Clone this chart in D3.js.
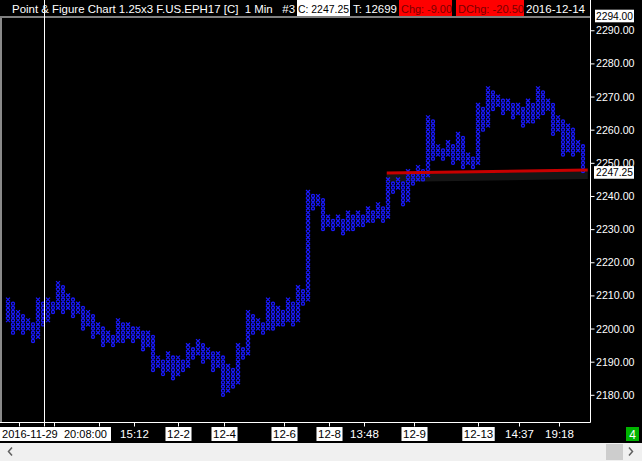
<!DOCTYPE html>
<html><head><meta charset="utf-8">
<script src="https://cdn.jsdelivr.net/npm/d3@7"></script>
<style>
body{margin:0;background:#000;overflow:hidden}
text{font-family:"Liberation Sans",Arial,sans-serif;white-space:pre}
</style>
</head><body>
<svg id="c" width="642" height="461"></svg>
<script>
// ---- data ----
const boxSize = 1.25;
const firstColType = "X";
const colHigh = [2208.75,2207.5,2205,2203.75,2202.5,2201.25,2208.75,2207.5,2208.75,2207.5,
 2213.75,2212.5,2210,2208.75,2207.5,2206.25,2205,2203.75,2201.25,2200,
 2198.75,2197.5,2202.5,2201.25,2201.25,2200,2200,2198.75,2198.75,2197.5,
 2191.25,2190,2192.5,2191.25,2191.25,2190,2195,2193.75,2196.25,2195,
 2193.75,2192.5,2192.5,2191.25,2188.75,2187.5,2195,2193.75,2205,2203.75,
 2202.5,2201.25,2208.75,2207.5,2206.25,2205,2208.75,2207.5,2212.5,2211.25,
 2241.25,2240,2240,2238.75,2233.75,2232.5,2233.75,2232.5,2235,2233.75,
 2235,2233.75,2236.25,2235,2237.5,2236.25,2245,2243.75,2245,2243.75,
 2247.5,2246.25,2248.75,2247.5,2263.75,2262.5,2255,2253.75,2256.25,2255,
 2258.75,2257.5,2252.5,2251.25,2267.5,2266.25,2272.5,2271.25,2270,2268.75,
 2268.75,2267.5,2267.5,2266.25,2268.75,2267.5,2272.5,2271.25,2268.75,2267.5,
 2263.75,2262.5,2261.25,2260,2256.25,2255];
const colLow = [2202.5,2198.75,2200,2198.75,2200,2196.25,2197.5,2201.25,2202.5,2205,
 2206.25,2205,2206.25,2203.75,2205,2200,2201.25,2197.5,2198.75,2195,
 2196.25,2195,2196.25,2196.25,2197.5,2196.25,2197.5,2193.75,2195,2187.5,
 2188.75,2186.25,2187.5,2185,2186.25,2187.5,2188.75,2191.25,2192.5,2190,
 2191.25,2187.5,2188.75,2180,2181.25,2182.5,2183.75,2191.25,2192.5,2198.75,
 2200,2198.75,2200,2200,2201.25,2201.25,2202.5,2201.25,2202.5,2207.5,
 2208.75,2236.25,2237.5,2230,2231.25,2230,2231.25,2228.75,2230,2230,
 2231.25,2231.25,2232.5,2232.5,2233.75,2232.5,2233.75,2241.25,2242.5,2237.5,
 2238.75,2243.75,2245,2245,2246.25,2251.25,2252.5,2251.25,2252.5,2250,
 2251.25,2248.75,2250,2248.75,2250,2260,2261.25,2266.25,2267.5,2265,
 2266.25,2263.75,2265,2261.25,2262.5,2262.5,2263.75,2265,2266.25,2258.75,
 2260,2252.5,2253.75,2252.5,2253.75,2247.5];
const yTicks = [2180,2190,2200,2210,2220,2230,2240,2250,2260,2270,2280,2290];
const topPrice = 2294.00;
const lastPrice = 2247.25;
const xTickCols = [2,9,18,25,34,43,55,64,71,81,94,102,110];
const xTickLabels = ["","","","15:12","12-2","12-4","12-6","12-8","13:48","12-9","12-13","14:37","19:18"];
const xTickBoxed = [false,false,false,false,true,true,true,true,false,true,true,false,false];
const cursorCol = 7.5;
const cursorLabel = "2016-11-29  20:08:00";
const trendCols = [76.15, 116.35];
const trendPrices = [2246.9, 2247.8];
const header = [
  {t:"Point & Figure Chart 1.25x3 F.US.EPH17 [C]  1 Min   #3", x0:0, x1:297, tx:12, tw:283, bg:"#000", fg:"#fff"},
  {t:"C: 2247.25", x0:297, x1:350, tx:298, tw:51, bg:"#fff", fg:"#000"},
  {t:"T: 12699", x0:350, x1:399, tx:353, tw:44, bg:"#000", fg:"#fff"},
  {t:"Chg: -9.00", x0:399, x1:452, tx:401, tw:51, bg:"#ff0000", fg:"#7a0000"},
  {t:"", x0:452, x1:456, tx:0, tw:0, bg:"#000", fg:"#fff"},
  {t:"DChg: -20.50", x0:456, x1:524, tx:458, tw:66, bg:"#ff0000", fg:"#7a0000"},
  {t:"2016-12-14", x0:524, x1:590, tx:526, tw:59, bg:"#000", fg:"#fff"}
];

// ---- chart ----
const svg = d3.select("#c");
svg.append("rect").attr("width",642).attr("height",461).attr("fill","#000");

const plotTop = 17, plotBottom = 422, axisX = 590.5;
const x = d3.scaleLinear().domain([0,116]).range([6,586]);
const y = d3.scaleLinear().domain([topPrice, 2171.8]).range([plotTop, plotBottom]);
const boxH = y(topPrice - boxSize) - y(topPrice);
const blue = "#1a1aff";

// left border
svg.append("rect").attr("x",0).attr("y",plotTop+1).attr("width",2).attr("height",plotBottom-plotTop-1).attr("fill","#8a8a8a");

// trend line shadow (behind the boxes)
svg.append("line").attr("x1",x(trendCols[0])).attr("x2",x(trendCols[1]))
  .attr("y1",y(trendPrices[0])+5).attr("y2",y(trendPrices[1])+5)
  .attr("stroke","#161616").attr("stroke-width",8);

// boxes
const boxes = [];
colHigh.forEach((hi,i)=>{
  const lo = colLow[i];
  const n = Math.round((hi-lo)/boxSize)+1;
  const type = (i%2===0) ? firstColType : (firstColType==="X"?"O":"X");
  for(let k=0;k<n;k++) boxes.push({i, p: lo + k*boxSize, type});
});
const g = svg.append("g");
boxes.forEach(b=>{
  const x0 = x(b.i), cy = y(b.p);
  if(b.type==="X"){
    g.append("path")
      .attr("d",`M${x0},${cy-boxH/2+0.2}L${x0+4},${cy+boxH/2-0.2}M${x0+4},${cy-boxH/2+0.2}L${x0},${cy+boxH/2-0.2}`)
      .attr("stroke",blue).attr("stroke-width",1.25).attr("fill","none");
  } else {
    g.append("ellipse").attr("cx",x0+2).attr("cy",cy).attr("rx",1.5).attr("ry",boxH/2-0.55)
      .attr("stroke",blue).attr("stroke-width",1.3).attr("fill","none");
  }
});

// trend line
svg.append("line").attr("x1",x(trendCols[0])).attr("x2",x(trendCols[1]))
  .attr("y1",y(trendPrices[0])).attr("y2",y(trendPrices[1]))
  .attr("stroke","#c80000").attr("stroke-width",3);

// header
const defs = svg.append("defs");
header.forEach((h,k)=>{
  svg.append("rect").attr("x",h.x0).attr("y",0).attr("width",h.x1-h.x0).attr("height",16).attr("fill",h.bg);
  if(!h.t) return;
  defs.append("clipPath").attr("id","hc"+k).append("rect").attr("x",h.x0).attr("y",0).attr("width",h.x1-h.x0).attr("height",16);
  svg.append("text").attr("clip-path",`url(#hc${k})`).attr("x",h.tx).attr("y",12.5)
    .attr("font-size","11.5px").attr("fill",h.fg)
    .attr("textLength",h.tw).attr("lengthAdjust","spacingAndGlyphs").text(h.t);
});
svg.append("line").attr("x1",0).attr("x2",axisX).attr("y1",17).attr("y2",17).attr("stroke","#fff");

// y axis
svg.append("line").attr("x1",axisX).attr("x2",axisX).attr("y1",0).attr("y2",plotBottom+0.5).attr("stroke","#fff");
const yAxisG = svg.append("g").attr("transform",`translate(${axisX},0)`)
  .call(d3.axisRight(y).tickValues(yTicks).tickSize(4).tickPadding(1.5).tickFormat(d3.format(".2f")));
yAxisG.select(".domain").remove();
yAxisG.selectAll(".tick line").attr("stroke","#fff");
yAxisG.selectAll(".tick text").attr("fill","#fff").attr("font-size","11px")
  .attr("font-family","Liberation Sans, Arial, sans-serif")
  .attr("textLength",38.5).attr("lengthAdjust","spacingAndGlyphs");

function priceBox(price, yy, x0){
  svg.append("rect").attr("x",x0).attr("y",yy-6.3).attr("width",634-x0).attr("height",12.6).attr("fill","#fff");
  svg.append("text").attr("x",596).attr("y",yy).attr("dy","0.35em").attr("font-size","10.5px")
    .attr("fill","#000").attr("textLength",37).attr("lengthAdjust","spacingAndGlyphs")
    .text(d3.format(".2f")(price));
}
priceBox(topPrice, 16, 595);
priceBox(lastPrice, y(lastPrice)+0.5, 594);

// x axis
svg.append("line").attr("x1",0).attr("x2",axisX).attr("y1",plotBottom+0.5).attr("y2",plotBottom+0.5).attr("stroke","#fff");
const xc = c => x(c) + 2.5;
xTickCols.forEach((c,k)=>{
  const xx = Math.round(xc(c))+0.5;
  svg.append("line").attr("x1",xx).attr("x2",xx).attr("y1",plotBottom).attr("y2",plotBottom+4.5).attr("stroke","#fff");
  const lab = xTickLabels[k];
  if(!lab) return;
  const t = svg.append("text").attr("x",xx).attr("y",438).attr("text-anchor","middle")
    .attr("font-size","11.5px").attr("fill", xTickBoxed[k] ? "#000" : "#fff").text(lab);
  if(xTickBoxed[k]){
    const w = t.node().getComputedTextLength();
    svg.insert("rect", function(){return t.node();}).attr("x",xx-w/2-1.5).attr("y",427).attr("width",w+3).attr("height",14).attr("fill","#fff");
  }
});
// crosshair
const cx = Math.round(x(cursorCol))+0.5;
svg.append("line").attr("x1",cx).attr("x2",cx).attr("y1",0).attr("y2",plotBottom+4.5).attr("stroke","#fff");
svg.append("rect").attr("x",0).attr("y",427).attr("width",111).attr("height",14).attr("fill","#fff");
svg.append("text").attr("x",2).attr("y",438).attr("font-size","11.5px").attr("fill","#000")
  .attr("textLength",105).attr("lengthAdjust","spacingAndGlyphs").text(cursorLabel);

// green box
svg.append("rect").attr("x",626).attr("y",427).attr("width",13).attr("height",14).attr("fill","#00b400");
svg.append("text").attr("x",632.5).attr("y",438.5).attr("text-anchor","middle").attr("font-size","12px").attr("fill","#fff").text("4");

// scrollbar
svg.append("rect").attr("x",0).attr("y",443).attr("width",642).attr("height",18).attr("fill","#f0f0f0");
svg.append("rect").attr("x",606).attr("y",444).attr("width",17).attr("height",16).attr("fill","#cdcdcd");
svg.append("path").attr("d","M12,447.5L8.5,451.5L12,455.5").attr("stroke","#606060").attr("stroke-width",1.5).attr("fill","none");
svg.append("path").attr("d","M629,447.5L632.5,451.5L629,455.5").attr("stroke","#606060").attr("stroke-width",1.5).attr("fill","none");
</script>
</body></html>
